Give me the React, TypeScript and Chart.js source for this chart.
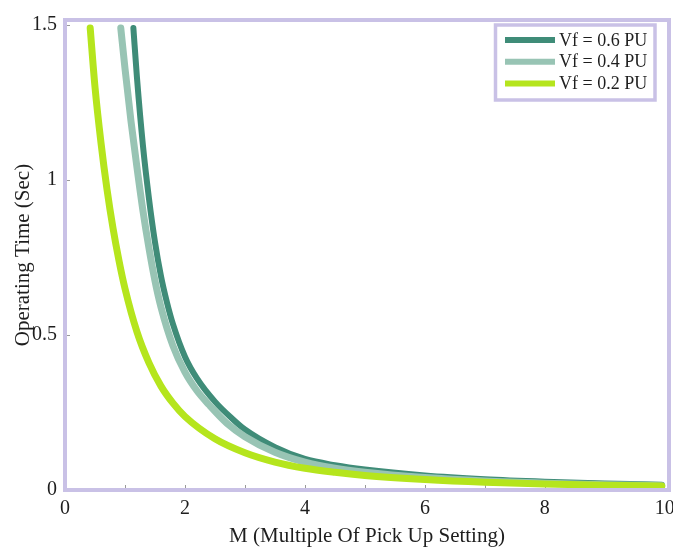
import React, { useEffect, useRef } from "react";
import { Chart, registerables } from "chart.js";

Chart.register(...registerables);

const seriesLabels = ["Vf = 0.6 PU", "Vf = 0.4 PU", "Vf = 0.2 PU"];
const seriesColors = ["#3f8c78", "#98c4b4", "#b5e51d"];

const mVf06 = [1.14, 1.2, 1.3, 1.4, 1.5, 1.6, 1.7, 1.8, 2.0, 2.2, 2.5, 2.8, 3.0, 3.5, 4.0, 4.5, 5.0, 6.0, 7.0, 8.0, 9.0, 9.95];
const tVf06 = [1.49, 1.33, 1.11, 0.94, 0.8, 0.69, 0.605, 0.535, 0.43, 0.36, 0.285, 0.228, 0.195, 0.138, 0.1, 0.08, 0.066, 0.047, 0.035, 0.027, 0.021, 0.017];

const mVf04 = [0.93, 1.0, 1.1, 1.2, 1.3, 1.4, 1.5, 1.6, 1.8, 2.0, 2.2, 2.4, 2.7, 3.0, 3.5, 4.0, 4.5, 5.0, 6.0, 7.0, 8.0, 9.0, 9.95];
const tVf04 = [1.49, 1.36, 1.19, 1.04, 0.9, 0.78, 0.675, 0.59, 0.465, 0.38, 0.32, 0.275, 0.215, 0.172, 0.122, 0.09, 0.07, 0.057, 0.04, 0.029, 0.022, 0.017, 0.014];

const mVf02 = [0.42, 0.5, 0.6, 0.7, 0.8, 0.9, 1.0, 1.2, 1.4, 1.6, 1.8, 2.0, 2.5, 3.0, 3.5, 4.0, 4.5, 5.0, 6.0, 7.0, 8.0, 9.0, 9.95];
const tVf02 = [1.49, 1.3, 1.12, 0.97, 0.845, 0.74, 0.65, 0.51, 0.41, 0.335, 0.28, 0.237, 0.165, 0.12, 0.09, 0.07, 0.057, 0.047, 0.034, 0.025, 0.019, 0.015, 0.013];

const xTickLabels = [0, 2, 4, 6, 8, 10];
const yTickLabels = [0, 0.5, 1, 1.5];
const xMinorTicks = [1, 2, 3, 4, 5, 6, 7, 8, 9];
const yMinorTicks = [0.5, 1, 1.5];

const FONT = "'Liberation Serif', 'Times New Roman', serif";
const FRAME = "#c9c1e6";

const framePlugin = {
  id: "frameAndLegend",
  beforeDatasetsDraw(chart: any) {
    const { ctx, chartArea, scales } = chart;
    ctx.save();
    ctx.strokeStyle = "#9a9a9a";
    ctx.lineWidth = 1;
    xMinorTicks.forEach((v) => {
      const x = Math.round(scales.x.getPixelForValue(v)) + 0.5;
      ctx.beginPath();
      ctx.moveTo(x, chartArea.bottom - 2);
      ctx.lineTo(x, chartArea.bottom - 5);
      ctx.stroke();
    });
    yMinorTicks.forEach((v) => {
      const y = Math.round(scales.y.getPixelForValue(v)) + 0.5;
      ctx.beginPath();
      ctx.moveTo(chartArea.left + 2, y);
      ctx.lineTo(chartArea.left + 5, y);
      ctx.stroke();
    });
    ctx.restore();
  },
  afterDatasetsDraw(chart: any) {
    const { ctx, chartArea } = chart;
    ctx.save();
    ctx.strokeStyle = FRAME;
    ctx.lineWidth = 4;
    ctx.strokeRect(chartArea.left, chartArea.top, chartArea.right - chartArea.left, chartArea.bottom - chartArea.top);

    const bx = 495.5, by = 25, bw = 159.5, bh = 75;
    ctx.fillStyle = "#ffffff";
    ctx.fillRect(bx, by, bw, bh);
    ctx.lineWidth = 3.5;
    ctx.strokeStyle = FRAME;
    ctx.strokeRect(bx, by, bw, bh);
    const rows = [40, 61.7, 83.4];
    chart.data.datasets.forEach((ds: any, i: number) => {
      const y = rows[i];
      ctx.strokeStyle = ds.borderColor;
      ctx.lineWidth = 6;
      ctx.lineCap = "butt";
      ctx.beginPath();
      ctx.moveTo(505, y);
      ctx.lineTo(555, y);
      ctx.stroke();
      ctx.fillStyle = "#1e1e1e";
      ctx.font = `18px ${FONT}`;
      ctx.textAlign = "left";
      ctx.textBaseline = "middle";
      ctx.fillText(ds.label, 559, y + 1);
    });
    ctx.restore();
  },
};

export default function App() {
  const canvasRef = useRef<HTMLCanvasElement | null>(null);

  useEffect(() => {
    document.body.style.margin = "0";
    const canvas = canvasRef.current;
    if (!canvas) return;
    const toPts = (xs: number[], ys: number[]) => xs.map((x, i) => ({ x, y: ys[i] }));
    const chart = new Chart(canvas, {
      type: "line",
      data: {
        datasets: [
          { label: seriesLabels[0], data: toPts(mVf06, tVf06), borderColor: seriesColors[0], borderWidth: 6, order: 3 },
          { label: seriesLabels[1], data: toPts(mVf04, tVf04), borderColor: seriesColors[1], borderWidth: 7, order: 2 },
          { label: seriesLabels[2], data: toPts(mVf02, tVf02), borderColor: seriesColors[2], borderWidth: 7, order: 1 },
        ].map((d) => ({
          ...d,
          pointRadius: 0,
          fill: false,
          borderCapStyle: "round",
          borderJoinStyle: "round",
          cubicInterpolationMode: "monotone",
        })) as any,
      },
      options: {
        animation: false,
        responsive: false,
        devicePixelRatio: 1,
        layout: { padding: { top: 13, right: 21, left: 0, bottom: 0 } },
        plugins: { legend: { display: false }, tooltip: { enabled: false } },
        scales: {
          x: {
            type: "linear",
            min: 0,
            max: 10.07,
            grid: { display: false, drawTicks: false },
            border: { display: false },
            afterBuildTicks: (s: any) => {
              s.ticks = xTickLabels.map((v) => ({ value: v }));
            },
            afterFit: (s: any) => {
              s.height = 61;
            },
            ticks: {
              padding: 7,
              color: "#1e1e1e",
              font: { family: FONT, size: 20 },
              maxRotation: 0,
              autoSkip: false,
              callback: (v: any) => String(v),
            },
            title: {
              display: true,
              text: "M (Multiple Of Pick Up Setting)",
              color: "#1e1e1e",
              font: { family: FONT, size: 21, lineHeight: 1.2 },
              padding: { top: 0, bottom: 1.5 },
            },
          },
          y: {
            type: "linear",
            min: 0,
            max: 1.516,
            grid: { display: false, drawTicks: false },
            border: { display: false },
            afterBuildTicks: (s: any) => {
              s.ticks = yTickLabels.map((v) => ({ value: v }));
            },
            afterFit: (s: any) => {
              s.width = 65;
            },
            ticks: {
              padding: 8,
              color: "#1e1e1e",
              font: { family: FONT, size: 20 },
              autoSkip: false,
              callback: (v: any) => String(v),
            },
            title: {
              display: true,
              text: "Operating Time (Sec)",
              color: "#1e1e1e",
              font: { family: FONT, size: 21, lineHeight: 1.2 },
              padding: { top: 10.4, bottom: 0 },
            },
          },
        },
      },
      plugins: [framePlugin],
    } as any);
    return () => chart.destroy();
  }, []);

  return (
    <div style={{ position: "absolute", left: 0, top: 0, width: 673, height: 551, overflow: "hidden", background: "#fff" }}>
      <canvas ref={canvasRef} width={690} height={551} style={{ width: 690, height: 551, display: "block" }} />
    </div>
  );
}
